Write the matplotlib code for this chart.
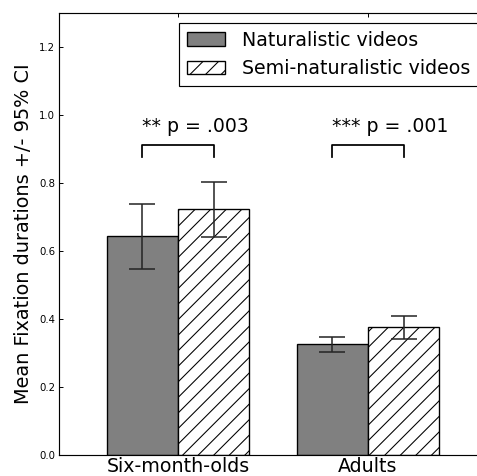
import matplotlib
matplotlib.use("Agg")
import matplotlib.pyplot as plt
import numpy as np

groups = ["Six-month-olds", "Adults"]
series = ["Naturalistic videos", "Semi-naturalistic videos"]
means_nat = [0.644, 0.326]
lo_nat = [0.547, 0.303]
hi_nat = [0.738, 0.347]
means_semi = [0.724, 0.376]
lo_semi = [0.641, 0.341]
hi_semi = [0.803, 0.409]
annotations = ["** p = .003", "*** p = .001"]
yticks = [0.0, 0.2, 0.4, 0.6, 0.8, 1.0, 1.2]

DPI = 140
plt.rcParams['hatch.linewidth'] = 0.55
plt.rcParams['font.family'] = ['DejaVu Sans']

fig = plt.figure(figsize=(477 / DPI, 476 / DPI), dpi=DPI)
fig.patch.set_facecolor('white')
ax = fig.add_axes([59 / 477, 21 / 476, 428 / 477, 442 / 476])

x = np.arange(len(groups))
w = 0.375
err_nat = [np.array(means_nat) - np.array(lo_nat), np.array(hi_nat) - np.array(means_nat)]
err_semi = [np.array(means_semi) - np.array(lo_semi), np.array(hi_semi) - np.array(means_semi)]

ekw = dict(ecolor='0.15', elinewidth=0.8, capsize=6.5, capthick=0.8)
ax.bar(x - w / 2, means_nat, w, color='0.5', edgecolor='black', linewidth=0.7,
       yerr=err_nat, error_kw=ekw, label=series[0])
ax.bar(x + w / 2, means_semi, w, color='white', edgecolor='black', linewidth=0.7,
       hatch='///', yerr=err_semi, error_kw=ekw, label=series[1])

# significance brackets
for i, txt in enumerate(annotations):
    xl = x[i] - w / 2
    xr = x[i] + w / 2
    ax.plot([xl, xl, xr, xr], [0.876, 0.912, 0.912, 0.876], color='black', lw=0.9)
    ax.text(xl, 0.95, txt, ha='left', va='baseline', fontsize=9.7)

ax.set_xlim(-0.626, 1.626)
ax.set_ylim(0, 1.3)
ax.set_xticks(x)
ax.set_xticklabels(groups, fontsize=9.8)
ax.set_yticks(yticks)
ax.set_yticklabels([f"{v:.1f}" for v in yticks], fontsize=5.2)
ax.tick_params(axis='both', direction='in', length=2, width=0.5, top=True, right=True)
ax.tick_params(axis='x', pad=1, length=2)
ax.tick_params(axis='y', pad=2)
for s in ax.spines.values():
    s.set_linewidth(0.6)
ax.set_ylabel("Mean Fixation durations +/- 95% CI", fontsize=9.9, labelpad=3)

leg = ax.legend(loc='upper left', bbox_to_anchor=(179 / 477, 1 - 23 / 476),
                bbox_transform=fig.transFigure, borderaxespad=0, fontsize=9.8,
                handletextpad=0.9, fancybox=False, framealpha=1, edgecolor='black')
leg.get_frame().set_linewidth(0.6)

fig.savefig("out.png", dpi=DPI, facecolor='white')
